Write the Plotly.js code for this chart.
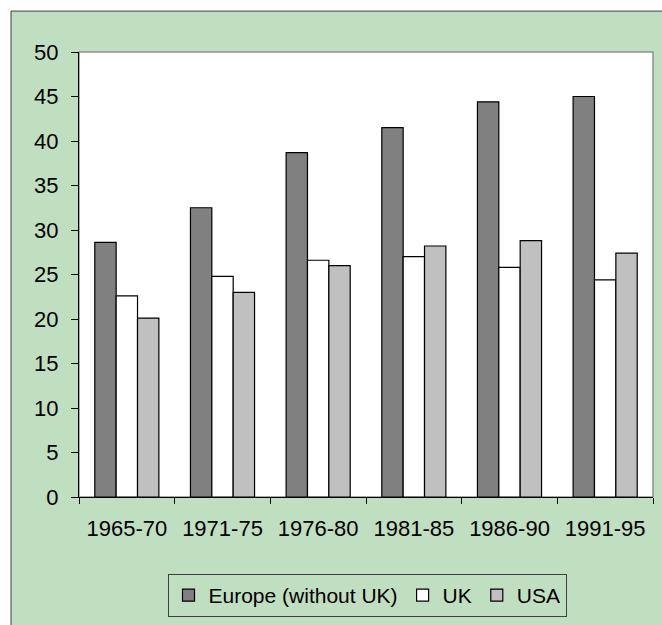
<!DOCTYPE html>
<html>
<head>
<meta charset="utf-8">
<script src="https://cdn.plot.ly/plotly-3.0.1.min.js"></script>
<style>html,body{margin:0;padding:0;background:#fff;}#chart{width:662px;height:625px;}</style>
</head>
<body>
<div id="chart"></div>
<script>
var categories = ["1965-70", "1971-75", "1976-80", "1981-85", "1986-90", "1991-95"];
var seriesNames = ["Europe (without UK)", "UK", "USA"];
var europeValues = [28.6, 32.5, 38.7, 41.5, 44.4, 45.0];
var ukValues = [22.6, 24.8, 26.6, 27.0, 25.8, 24.4];
var usaValues = [20.1, 23.0, 26.0, 28.2, 28.8, 27.4];
var yTickValues = [0, 5, 10, 15, 20, 25, 30, 35, 40, 45, 50];

var fontFam = "Liberation Sans, Arial, sans-serif";
var colors = ["#808080", "#FFFFFF", "#C0C0C0"];
var allValues = [europeValues, ukValues, usaValues];

var traces = allValues.map(function (vals, i) {
  return {
    type: "bar",
    name: seriesNames[i],
    x: categories,
    y: vals,
    marker: { color: colors[i], line: { color: "#000000", width: 1.2 } },
    hoverinfo: "x+y+name"
  };
});

var W = 662, H = 625;
var L = 79, R = 9, T = 52, B = 127;
var pw = W - L - R, ph = H - T - B;
function px(x) { return (x - L) / pw; }
function py(y) { return (H - B - y) / ph; }

var layout = {
  width: W,
  height: H,
  margin: { l: L, r: R, t: T, b: B, pad: 0 },
  paper_bgcolor: "#FFFFFF",
  plot_bgcolor: "rgba(0,0,0,0)",
  barmode: "group",
  bargap: 0.33,
  bargroupgap: 0,
  showlegend: true,
  font: { family: fontFam, size: 22, color: "#000000" },
  xaxis: {
    type: "category",
    showgrid: false,
    zeroline: false,
    showline: true,
    linecolor: "#000000",
    linewidth: 1,
    ticks: "outside",
    tickson: "boundaries",
    ticklen: 6,
    tickcolor: "#000000",
    tickwidth: 1,
    ticklabelstandoff: 12,
    tickfont: { family: fontFam, size: 22, color: "#000000" }
  },
  yaxis: {
    range: [0, 50],
    tickvals: yTickValues,
    ticktext: yTickValues.map(String),
    showgrid: false,
    zeroline: false,
    showline: true,
    linecolor: "#000000",
    linewidth: 1,
    ticks: "outside",
    ticklen: 7,
    tickcolor: "#000000",
    tickwidth: 1,
    ticklabelstandoff: 8,
    tickfont: { family: fontFam, size: 22, color: "#000000" }
  },
  legend: {
    orientation: "h",
    x: px(367),
    xanchor: "center",
    y: py(574),
    yanchor: "top",
    bgcolor: "rgba(0,0,0,0)",
    bordercolor: "#404040",
    borderwidth: 1,
    font: { family: fontFam, size: 21, color: "#000000" },
    traceorder: "normal",
    itemclick: false
  },
  shapes: [
    {
      type: "rect", xref: "paper", yref: "paper", layer: "below",
      x0: px(11), x1: px(700), y0: py(11), y1: py(700),
      fillcolor: "#C0DEC0",
      line: { color: "#404040", width: 1 }
    },
    {
      type: "rect", xref: "paper", yref: "paper", layer: "below",
      x0: 0, x1: 1, y0: 0, y1: 1,
      fillcolor: "#FFFFFF",
      line: { color: "#909090", width: 1.5 }
    }
  ]
};

Plotly.newPlot("chart", traces, layout, { displayModeBar: false, staticPlot: true });
</script>
</body>
</html>
